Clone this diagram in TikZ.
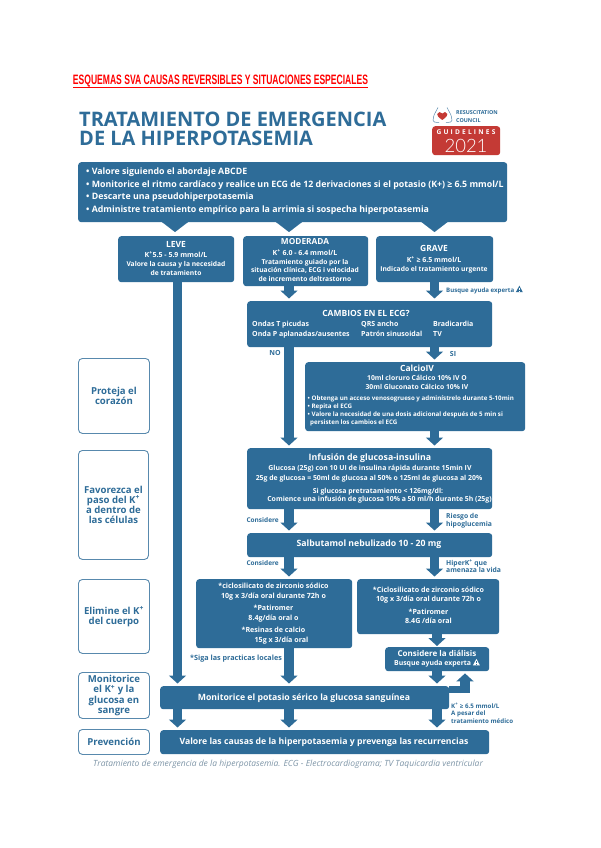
\documentclass[tikz,border=0pt]{standalone}
\usepackage{fontspec}
\usepackage{graphicx}
\setmainfont{Open Sans}
\newfontfamily\titlefont{Open Sans}
\newfontfamily\lightfont{Lato Light}
\newfontfamily\redfont{Liberation Sans}
\usetikzlibrary{arrows.meta,calc}
\definecolor{rcblue}{HTML}{2E6C98}
\definecolor{rcred}{HTML}{C43A35}
\definecolor{capgray}{HTML}{7F96A8}
\newcounter{tn}
\newcommand{\warn}[2]{\tikz[x=1pt,y=1pt,baseline=0pt]{\fill[#1] (0,0) -- (7,0) -- (3.5,6.5) -- cycle; \fill[#2] (3.15,2) rectangle (3.85,4.4); \fill[#2] (3.15,.8) rectangle (3.85,1.5);}}
\newcommand{\Kp}{K\textsuperscript{+}}
\tikzset{
  bx/.style={fill=rcblue,rounded corners=3pt,inner sep=0pt},
  sidebox/.style={draw=rcblue!80,line width=0.9pt,fill=white,rounded corners=4pt,inner sep=0pt,align=center,text=rcblue,font=\bfseries\fontsize{9.6}{10.2}\selectfont},
  fat/.style={draw=rcblue,line width=9.5pt,-{Triangle[width=17pt,length=8pt]},shorten >=2.5pt},
  ptr/.style={draw=rcblue,line width=0.1pt,-{Triangle[width=26pt,length=10pt]},shorten >=4pt},
  wt/.style={text=white,inner sep=0pt,font=\fontsize{#1}{#1}\selectfont\bfseries},
  wt/.default=7.5,
  bt/.style={text=rcblue,inner sep=0pt,font=\fontsize{#1}{#1}\selectfont\bfseries},
  bt/.default=7
}
\newcommand{\mkbox}[6][bx]{\node[#1,minimum width=#5pt-#3pt,minimum height=#6pt-#4pt,anchor=north west] (#2) at (#3,#4) {};}
\newcommand{\sidebx}[6]{\node[sidebox,minimum width=#4pt-#2pt,minimum height=#5pt-#3pt,anchor=north west] (#1) at (#2,#3) {#6};}
\newcommand{\ctx}[4][wt]{\stepcounter{tn}\node[#1,anchor=center] (t\thetn) at (#2,#3) {\strut\smash{#4}};}
\newcommand{\ltx}[4][wt]{\stepcounter{tn}\node[#1,anchor=west] (t\thetn) at (#2,#3) {\strut\smash{#4}};}
\newcommand{\rtx}[4][wt]{\stepcounter{tn}\node[#1,anchor=east] (t\thetn) at (#2,#3) {\strut\smash{#4}};}
\begin{document}
\begin{tikzpicture}[x=1pt,y=-1pt]
\useasboundingbox (0,0) rectangle (600,848);
\fill[white] (0,0) rectangle (600,848);
% red heading
\node[inner sep=0pt,anchor=center,text=red] (head) at (220.5,81) {\resizebox{295pt}{9.5pt}{\redfont\bfseries\fontsize{13}{13}\selectfont ESQUEMAS SVA CAUSAS REVERSIBLES Y SITUACIONES ESPECIALES}};
\draw[red,line width=0.8pt] (73,87) -- (368,87);
% title
\node[inner sep=0pt,anchor=west,text=rcblue,font=\titlefont\bfseries\fontsize{20}{20}\selectfont] (tit1) at (79,122) {\strut\smash{TRATAMIENTO DE EMERGENCIA}};
\node[inner sep=0pt,anchor=west,text=rcblue,font=\titlefont\bfseries\fontsize{20}{20}\selectfont] (tit2) at (79,142) {\strut\smash{DE LA HIPERPOTASEMIA}};
% logo
\draw[rcblue!80,line width=0.5pt,rounded corners=1.5pt] (438,107.5) -- (433.5,116) -- (433,122) -- (439,122.5);
\draw[rcblue!80,line width=0.5pt,rounded corners=1.5pt] (447,107.5) -- (451.5,116) -- (452,122) -- (446,122.5);
\fill[rcred] (442.3,120) .. controls (438,117) and (437,115.5) .. (437.2,114) .. controls (438,111.5) and (441,111.5) .. (442.3,113.5) .. controls (443.6,111.5) and (446.6,111.5) .. (447.4,114) .. controls (447.6,115.5) and (446.6,117) .. (442.3,120) -- cycle;
\ltx[bt=5.4]{456}{113}{RESUSCITATION}
\ltx[bt=5.4]{456}{121}{COUNCIL}
\node[fill=rcred,rounded corners=3pt,minimum width=68pt,minimum height=29pt,inner sep=0pt,anchor=north west] (gl) at (432,126) {};
\node[wt=6.6,inner sep=0pt] (gt) at (466,132.5) {G\,\,U\,\,I\,\,D\,\,E\,\,L\,\,I\,\,N\,\,E\,\,S};
\node[text=white,inner sep=0pt,font=\lightfont\fontsize{18.5}{18.5}\selectfont] (yr) at (466,146) {2021};
% top
\mkbox{top}{78}{162}{507}{222}
\ltx[wt=8.8]{86}{173}{• Valore siguiendo el abordaje ABCDE}
\ltx[wt=8.8]{86}{186}{• Monitorice el ritmo cardíaco y realice un ECG de 12 derivaciones si el potasio (K+) ≥ 6.5 mmol/L}
\ltx[wt=8.8]{86}{198}{• Descarte una pseudohiperpotasemia}
\ltx[wt=8.8]{86}{211}{• Administre tratamiento empírico para la arrimia si sospecha hiperpotasemia}
% severity
\mkbox{leve}{118}{236}{234}{282}
\mkbox{mod}{243}{236}{368}{286}
\mkbox{grave}{376}{236}{493}{282}
\ctx[wt=8.5]{176}{246}{LEVE}
\ctx[wt=7]{176}{256}{\Kp 5.5 - 5.9 mmol/L}
\ctx[wt=6.7]{176}{265.5}{Valore la causa y la necesidad}
\ctx[wt=6.7]{176}{274.5}{de tratamiento}
\ctx[wt=8.3]{305}{243}{MODERADA}
\ctx[wt=7]{305}{254}{\Kp\ 6.0 - 6.4 mmol/L}
\ctx[wt=6.7]{305}{263}{Tratamiento guiado por la}
\ctx[wt=6.7]{305}{271.5}{situación clínica, ECG i velocidad}
\ctx[wt=6.7]{305}{280.5}{de incremento deltrastorno}
\ctx[wt=8.5]{434}{250}{GRAVE}
\ctx[wt=7]{434}{261}{\Kp\ ≥ 6.5 mmol/L}
\ctx[wt=6.7]{434}{270}{Indicado el tratamiento urgente}
\ltx[bt=6.1]{446}{291}{Busque ayuda experta \warn{rcblue}{white}}
% ECG
\mkbox{ecg}{247}{301}{492}{347}
\ctx[wt=8.5]{366}{315}{CAMBIOS EN EL ECG?}
\ltx[wt=7]{252}{325}{Ondas T picudas}
\ltx[wt=7]{252}{335}{Onda P aplanadas/ausentes}
\ltx[wt=7]{361}{325}{QRS ancho}
\ltx[wt=7]{361}{335}{Patrón sinusoidal}
\ltx[wt=7]{433}{325}{Bradicardia}
\ltx[wt=7]{433}{335}{TV}
\ctx[bt=7]{275}{354.5}{NO}
\ctx[bt=7]{453}{355.5}{SI}
% calcio
\mkbox{cal}{305}{362}{525}{431}
\ctx[wt=8.5]{417}{370}{CalcioIV}
\ctx[wt=6.8]{417}{379}{10ml cloruro Cálcico 10\% IV O}
\ctx[wt=6.8]{417}{388}{30ml Gluconato Cálcico 10\% IV}
\ltx[wt=6.2]{307.5}{399}{• Obtenga un acceso venosogrueso y adminístrelo durante 5-10min}
\ltx[wt=6.2]{307.5}{407}{• Repita el ECG}
\ltx[wt=6.2]{307.5}{415}{• Valore la necesidad de una dosis adicional después de 5 min si}
\ltx[wt=6.2]{310}{423}{persisten los cambios el ECG}
% glucose
\mkbox{glu}{247}{448}{492}{509}
\ctx[wt=8.8]{370}{459}{Infusión de glucosa-insulina}
\ctx[wt=6.9]{370}{469}{Glucosa (25g) con 10 UI de insulina rápida durante 15min IV}
\ctx[wt=6.9]{369}{479}{25g de glucosa = 50ml de glucosa al 50\% o 125ml de glucosa al 20\%}
\ctx[wt=6.9]{378}{492}{Si glucosa pretratamiento < 126mg/dl:}
\ctx[wt=6.9]{379.5}{500}{Comience una infusión de glucosa 10\% a 50 ml/h durante 5h (25g)}
\rtx[bt=6.5]{279}{521}{Considere}
\ltx[bt=6.8]{446}{517}{Riesgo de}
\ltx[bt=6.8]{446}{525}{hipoglucemia}
% salbutamol
\mkbox{sal}{247}{533}{492}{557}
\ctx[wt=8.7]{369}{545}{Salbutamol nebulizado 10 - 20 mg}
\rtx[bt=6.5]{279}{564}{Considere}
\ltx[bt=6.8]{446}{564}{HiperK\textsuperscript{+} que}
\ltx[bt=6.8]{446}{571.5}{amenaza la vida}
% elimination
\mkbox{eli}{196}{579}{352}{648}
\ctx[wt=7.1]{273.5}{587.5}{*ciclosilicato de zirconio sódico}
\ctx[wt=7.1]{273.5}{597.5}{10g x 3/día oral durante 72h o}
\ctx[wt=7.1]{273.5}{609}{*Patiromer}
\ctx[wt=7.1]{273.5}{619.5}{8.4g/día oral o}
\ctx[wt=7.1]{273.5}{631}{*Resinas de calcio}
\ctx[wt=7.1]{281.5}{641.5}{15g x 3/día oral}
\mkbox{elr}{357}{579}{499}{634}
\ctx[wt=7.1]{428.5}{591}{*Ciclosilicato de zirconio sódico}
\ctx[wt=7.1]{428.5}{600.5}{10g x 3/día oral durante 72h o}
\ctx[wt=7.1]{428.5}{613}{*Patiromer}
\ctx[wt=7.1]{428.5}{622.5}{8.4G /día oral}
\ltx[bt=7.2]{190}{659.5}{*Siga las practicas locales}
\mkbox{dia}{385}{647}{489}{671}
\ctx[wt=8]{437}{654.5}{Considere la diálisis}
\ctx[wt=6.9]{437}{664}{Busque ayuda experta \warn{white}{rcblue}}
% monitor
\mkbox{mon}{160}{686}{449}{709}
\ctx[wt=8.7]{304}{698.5}{Monitorice el potasio sérico la glucosa sanguínea}
\mkbox{val}{160}{730}{489}{754}
\ctx[wt=8.7]{324}{743}{Valore las causas de la hiperpotasemia y prevenga las recurrencias}
\ltx[bt=6.2]{451}{707}{\Kp\ ≥ 6.5 mmol/L}
\ltx[bt=6.2]{451}{714.5}{A pesar del}
\ltx[bt=6.2]{451}{722}{tratamiento médico}
\node[text=capgray,inner sep=0pt,anchor=west,font=\itshape\fontsize{8.5}{8.5}\selectfont] (cap) at (93,765) {\strut\smash{Tratamiento de emergencia de la hiperpotasemia. ECG - Electrocardiograma; TV Taquicardia ventricular}};
% side
\sidebx{s1}{78}{358}{149}{433}{Proteja el\\corazón}
\sidebx{s2}{78}{450}{148}{559}{Favorezca el\\paso del \Kp\\a dentro de\\las células}
\sidebx{s3}{78}{579}{149}{653}{Elimine el \Kp\\del cuerpo}
\sidebx{s4}{78}{672}{149}{718}{Monitorice\\el \Kp\ y la\\glucosa en\\sangre}
\sidebx{s5}{78}{729}{149}{754}{Prevención}
% connector columns
\coordinate (ca) at (175,0);
\coordinate (cb) at (177.5,0);
\coordinate (cc) at (289,0);
\coordinate (cd) at (434.5,0);
\coordinate (ce) at (437,0);
\coordinate (cf) at (465,0);
\draw[ptr] (top.south -| ca) -- (leve.north -| ca);
\draw[ptr] (top.south -| cc) -- (mod.north -| cc);
\draw[ptr] (top.south -| cd) -- (grave.north -| cd);
\draw[fat] (leve.south -| cb) -- (mon.north -| cb);
\draw[fat] (mod.south -| cc) -- (ecg.north -| cc);
\draw[fat] (grave.south -| cd) -- (ecg.north -| cd);
\draw[fat] (ecg.south -| cc) -- (glu.north -| cc);
\draw[fat] (ecg.south -| cd) -- (cal.north -| cd);
\draw[fat] (cal.south -| cd) -- (glu.north -| cd);
\draw[fat] (glu.south -| cc) -- (sal.north -| cc);
\draw[fat] (glu.south -| cd) -- (sal.north -| cd);
\draw[fat] (sal.south -| cc) -- (eli.north -| cc);
\draw[fat] (sal.south -| cd) -- (elr.north -| cd);
\draw[fat] (eli.south -| cc) -- (mon.north -| cc);
\draw[fat,shorten >=1pt] (elr.south -| ce) -- (dia.north -| ce);
\draw[fat] (dia.south -| ce) -- (mon.north -| ce);
\draw[fat] (mon.south -| cb) -- (val.north -| cb);
\draw[fat] (mon.south -| cc) -- (val.north -| cc);
\draw[fat] (mon.south -| ce) -- (val.north -| ce);
\coordinate (el) at (449,689.5);
\coordinate (ef) at (465,693);
\draw[draw=rcblue,line width=7pt] (el) -| ++(16,-6);
\draw[fat,shorten >=2pt] (ef) -- (dia.south -| cf);
\end{tikzpicture}
\end{document}
